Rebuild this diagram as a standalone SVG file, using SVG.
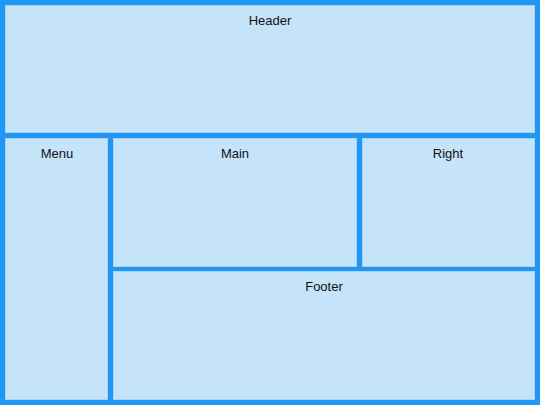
<svg xmlns="http://www.w3.org/2000/svg" width="540" height="405" viewBox="0 0 540 405">
<style>
.cell{fill:#C5E3F9;stroke:#A6D3F7;stroke-width:1}
.lbl{font-family:"Liberation Sans",Arial,sans-serif;font-size:13px;fill:#111;text-anchor:middle}
</style>
<rect x="0" y="0" width="540" height="405" fill="#2196F3"/>
<g id="header"><rect class="cell" x="5.5" y="5.5" width="529" height="127"/><text class="lbl" x="270" y="25">Header</text></g>
<g id="menu"><rect class="cell" x="5.5" y="138.5" width="102" height="261"/><text class="lbl" x="57" y="158">Menu</text></g>
<g id="main"><rect class="cell" x="113.5" y="138.5" width="243" height="128"/><text class="lbl" x="235" y="158">Main</text></g>
<g id="right"><rect class="cell" x="362.5" y="138.5" width="172" height="128"/><text class="lbl" x="448" y="158">Right</text></g>
<g id="footer"><rect class="cell" x="113.5" y="271.5" width="421" height="128"/><text class="lbl" x="324" y="291">Footer</text></g>
<g id="connectors"/>
</svg>
